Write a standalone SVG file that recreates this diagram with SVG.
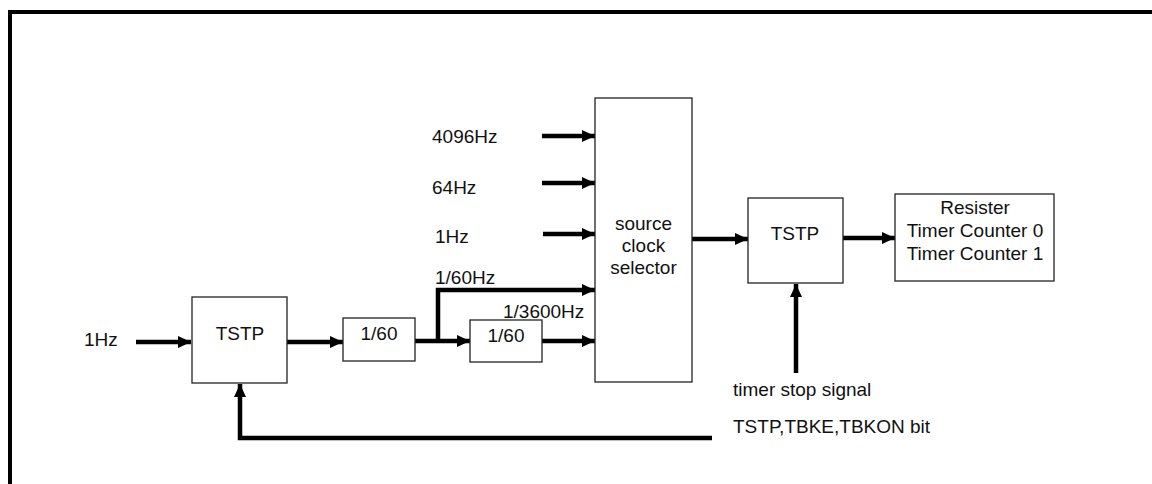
<svg xmlns="http://www.w3.org/2000/svg" width="1152" height="484" viewBox="0 0 1152 484">
<style>
.box{fill:#fff;stroke:#222;stroke-width:1.3}
.t{font-family:"Liberation Sans",Arial,sans-serif;font-size:19px;fill:#111}
.c{text-anchor:middle}
.w{fill:none;stroke:#000;stroke-width:4.5}
</style>
<defs>
<marker id="ah" markerUnits="userSpaceOnUse" markerWidth="14" markerHeight="14" viewBox="0 0 14 14" refX="13" refY="7" orient="auto">
<path d="M0,1 L13,7 L0,13 Z" fill="#000"/>
</marker>
</defs>
<rect width="1152" height="484" fill="#fff"/>
<path d="M10,484 V12 H1152" fill="none" stroke="#000" stroke-width="4"/>
<g id="connectors">
<line class="w" x1="136" y1="342" x2="191" y2="342" marker-end="url(#ah)"/>
<line class="w" x1="287" y1="342" x2="343" y2="342" marker-end="url(#ah)"/>
<line class="w" x1="415" y1="341" x2="470" y2="341" marker-end="url(#ah)"/>
<path class="w" d="M438,343 V290 H595" marker-end="url(#ah)"/>
<line class="w" x1="542" y1="341" x2="595" y2="341" marker-end="url(#ah)"/>
<line class="w" x1="542" y1="136" x2="595" y2="136" marker-end="url(#ah)"/>
<line class="w" x1="542" y1="183" x2="595" y2="183" marker-end="url(#ah)"/>
<line class="w" x1="543" y1="234" x2="595" y2="234" marker-end="url(#ah)"/>
<line class="w" x1="692" y1="239" x2="748" y2="239" marker-end="url(#ah)"/>
<line class="w" x1="843" y1="238" x2="895" y2="238" marker-end="url(#ah)"/>
<line class="w" x1="796" y1="373" x2="796" y2="284" marker-end="url(#ah)"/>
<path class="w" d="M712,438 H240 V384" marker-end="url(#ah)"/>
</g>
<g id="tstp1">
<rect class="box" x="192" y="297" width="95" height="86"/>
<text class="t c" x="240" y="340">TSTP</text>
</g>
<g id="div1">
<rect class="box" x="343" y="318" width="72" height="43"/>
<text class="t c" x="379" y="340">1/60</text>
</g>
<g id="div2">
<rect class="box" x="470" y="320" width="72" height="42"/>
<text class="t c" x="506" y="342">1/60</text>
</g>
<g id="selector">
<rect class="box" x="595" y="98" width="97" height="284"/>
<text class="t c" x="643.5" y="230">source</text>
<text class="t c" x="643.5" y="252">clock</text>
<text class="t c" x="643.5" y="274">selector</text>
</g>
<g id="tstp2">
<rect class="box" x="748" y="198" width="95" height="85"/>
<text class="t c" x="795" y="240">TSTP</text>
</g>
<g id="register">
<rect class="box" x="895" y="194" width="159" height="87"/>
<text class="t c" x="975" y="214">Resister</text>
<text class="t c" x="975" y="237">Timer Counter 0</text>
<text class="t c" x="975" y="260">Timer Counter 1</text>
</g>
<g id="labels">
<text class="t" x="84" y="346">1Hz</text>
<text class="t" x="432" y="143">4096Hz</text>
<text class="t" x="432" y="194">64Hz</text>
<text class="t" x="435" y="243">1Hz</text>
<text class="t" x="435" y="284">1/60Hz</text>
<text class="t" x="503" y="318">1/3600Hz</text>
<text class="t" x="733" y="396">timer stop signal</text>
<text class="t" x="733" y="433">TSTP,TBKE,TBKON bit</text>
</g>
</svg>
